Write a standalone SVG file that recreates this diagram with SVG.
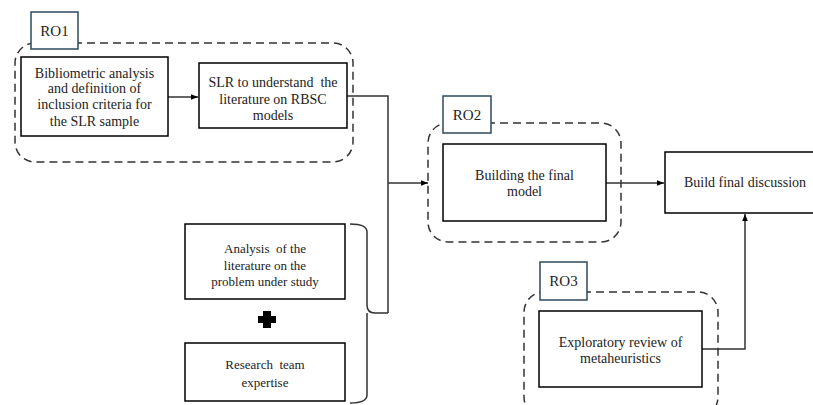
<svg xmlns="http://www.w3.org/2000/svg" width="813" height="405" viewBox="0 0 813 405">
<style>
.box{fill:#fff;stroke:#000;stroke-width:1.5}
.lbl{fill:#fff;stroke:#2e4a5a;stroke-width:1.5}
.grp{fill:none;stroke:#333;stroke-width:1.5;stroke-dasharray:8 5}
.t{font-family:'Liberation Serif','Times New Roman',serif;font-size:14px;fill:#222;text-anchor:middle}
.ts{font-family:'Liberation Serif','Times New Roman',serif;font-size:13px;fill:#222;text-anchor:middle}
.tl{font-family:'Liberation Serif','Times New Roman',serif;font-size:15px;fill:#222;text-anchor:middle}
.c{fill:none;stroke:#333;stroke-width:1.5}
</style>
<defs>
<marker id="ah" viewBox="0 0 10 10" refX="10" refY="5" markerWidth="7" markerHeight="7" markerUnits="userSpaceOnUse" orient="auto">
<path d="M0,1 L10,5 L0,9 z" fill="#000"/>
</marker>
</defs>
<rect width="813" height="405" fill="#fff"/>
<g id="ro1-group">
<rect class="grp" x="15" y="43" width="338" height="119" rx="20"/>
<rect class="lbl" x="31" y="12" width="47" height="37"/>
<text class="tl" x="54.5" y="36">RO1</text>
</g>
<g id="ro2-group">
<rect class="grp" x="428" y="123" width="193" height="119" rx="20"/>
<rect class="lbl" x="443" y="96" width="48" height="37"/>
<text class="tl" x="467" y="120">RO2</text>
</g>
<g id="ro3-group">
<rect class="grp" x="524" y="292" width="194" height="125" rx="20"/>
<rect class="lbl" x="540" y="262" width="47" height="38"/>
<text class="tl" x="563.5" y="286">RO3</text>
</g>
<g id="connectors">
<line class="c" x1="168" y1="97" x2="198" y2="97" marker-end="url(#ah)"/>
<polyline class="c" points="347,96 388,96 388,313"/>
<line class="c" x1="388" y1="183" x2="428" y2="183" marker-end="url(#ah)"/>
<path class="c" d="M350,224 Q367,224 367,232 L367,305 Q367,313 375,313 L388,313 M367,313 Q367,313 367,321 L367,395 Q367,403 350,403"/>
<line class="c" x1="606" y1="183" x2="664" y2="183" marker-end="url(#ah)"/>
<polyline class="c" points="702,349 745,349 745,214" marker-end="url(#ah)"/>
</g>
<g id="n1">
<rect class="box" x="21" y="57" width="147" height="79"/>
<text class="t" x="94.5" y="78">Bibliometric analysis</text>
<text class="t" x="94.5" y="93">and definition of</text>
<text class="t" x="94.5" y="109">inclusion criteria for</text>
<text class="t" x="94.5" y="126">the SLR sample</text>
</g>
<g id="n2">
<rect class="box" x="199" y="63" width="148" height="65"/>
<text class="t" x="273" y="87">SLR to understand&#160; the</text>
<text class="t" x="273" y="104">literature on RBSC</text>
<text class="t" x="273" y="120">models</text>
</g>
<g id="n3">
<rect class="box" x="185" y="224" width="160" height="75"/>
<text class="ts" x="265" y="253">Analysis&#160; of the</text>
<text class="ts" x="265" y="270">literature on the</text>
<text class="ts" x="265" y="286">problem under study</text>
</g>
<g id="plus">
<path d="M263,311 h8 v5 h5 v7 h-5 v5 h-8 v-5 h-5 v-7 h5 z" fill="#000"/>
</g>
<g id="n4">
<rect class="box" x="185" y="343" width="160" height="58"/>
<text class="ts" x="265" y="369">Research&#160; team</text>
<text class="ts" x="265" y="387">expertise</text>
</g>
<g id="n5">
<rect class="box" x="443" y="144" width="163" height="77"/>
<text class="t" x="524.5" y="180">Building the final</text>
<text class="t" x="524.5" y="196">model</text>
</g>
<g id="n6">
<rect class="box" x="665" y="152" width="160" height="61"/>
<text class="t" x="745" y="187">Build final discussion</text>
</g>
<g id="n7">
<rect class="box" x="539" y="311" width="163" height="76"/>
<text class="t" x="620.5" y="347">Exploratory review of</text>
<text class="t" x="620.5" y="363">metaheuristics</text>
</g>
</svg>
